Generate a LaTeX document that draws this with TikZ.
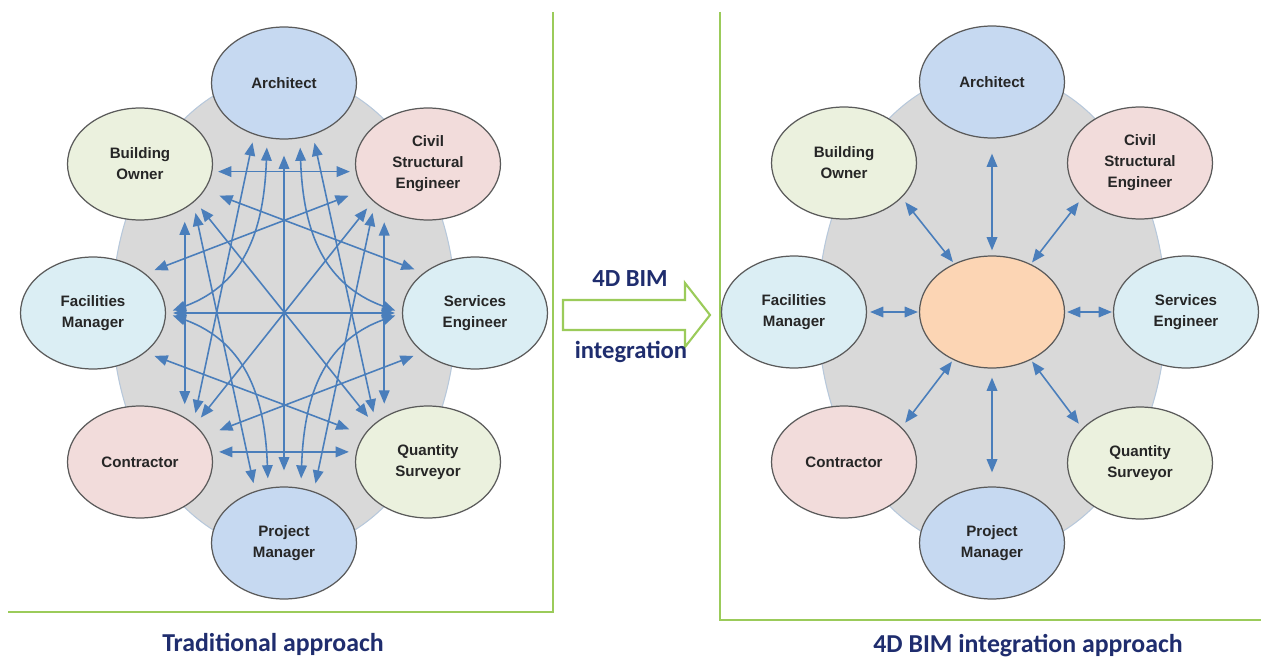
\documentclass[tikz,border=0pt]{standalone}
\usepackage{fontspec}
\setmainfont{Liberation Sans}
\newfontfamily\capfont{Carlito}
\usetikzlibrary{arrows.meta}
\usetikzlibrary{positioning}
\usetikzlibrary{shapes.geometric}

\definecolor{linkblue}{HTML}{4A7EBB}
\definecolor{rimgrey}{HTML}{5A5A5A}
\definecolor{poolgrey}{HTML}{D9D9D9}
\definecolor{poolrim}{HTML}{B7C8DB}
\definecolor{paleblue}{HTML}{C6D9F1}
\definecolor{palerose}{HTML}{F2DCDB}
\definecolor{palecyan}{HTML}{DBEEF4}
\definecolor{paleolive}{HTML}{EBF1DE}
\definecolor{hubpeach}{HTML}{FCD5B4}
\definecolor{framegreen}{HTML}{9BCB5A}
\definecolor{capnavy}{HTML}{1F2D6E}

\tikzset{
  party/.style={ellipse, draw=rimgrey, line width=0.7pt, minimum width=2.9cm,
    minimum height=2.24cm, inner sep=0pt, align=center,
    font=\fontsize{8.6}{12}\selectfont\bfseries, text=black!85},
  link/.style={draw=linkblue, line width=0.9pt,
    >={Triangle[length=7.5pt,width=6pt]}, <->},
  gaps/.style 2 args={shorten <=#1*0.02cm, shorten >=#2*0.02cm},
  pool/.style={draw=poolrim, line width=0.6pt, fill=poolgrey},
  frameline/.style={draw=framegreen, line width=1.1pt},
  caption/.style={font=\capfont\fontsize{14.7}{16}\selectfont\bfseries, text=capnavy},
  midtext/.style={font=\capfont\fontsize{14}{16}\selectfont\bfseries, text=capnavy},
}

\begin{document}
\begin{tikzpicture}[x=0.02cm, y=0.02cm]
    \useasboundingbox (0,0) rectangle (1261,657);
    % frames
    \path[frameline] (553,645) -- (553,45) -- (8,45);
    \path[frameline] (720,645) -- (720,37) -- (1261,37);

    % traditional approach
    \path[pool] (284,344) ellipse [x radius=172, y radius=238];
    \node[party, fill=paleblue] (arch) at (284,574) {Architect};
    \node[party, fill=palerose] (civil) at (428,493) {Civil\\Structural\\Engineer};
    \node[party, fill=palecyan] (serv) at (475,344) {Services\\Engineer};
    \node[party, fill=paleolive] (qs) at (428,195) {Quantity\\Surveyor};
    \node[party, fill=paleblue] (pm) at (284,114) {Project\\Manager};
    \node[party, fill=palerose] (contr) at (140,195) {Contractor};
    \node[party, fill=palecyan] (fac) at (93,344) {Facilities\\Manager};
    \node[party, fill=paleolive] (owner) at (140,493) {Building\\Owner};

    \path[link, gaps={5.7}{5.7}] (owner.-6.4) -- (civil.186.4);
    \path[link, gaps={7}{7}] (fac.0) -- (serv.180);
    \path[link, gaps={7.2}{7.2}] (contr.8) -- (qs.172);
    \path[link, gaps={16}{16}] (arch.270) -- (pm.90);
    \path[link, gaps={13}{13}] (owner.-45.2) -- (contr.45.2);
    \path[link, gaps={13}{13}] (civil.-134.8) -- (qs.134.8);
    \path[link, gaps={15.6}{9.7}] (owner.-22.7) -- (serv.142.1);
    \path[link, gaps={9.7}{15.6}] (fac.37.9) -- (civil.202.7);
    \path[link, gaps={9.7}{15.6}] (fac.-37.9) -- (qs.157.3);
    \path[link, gaps={15.6}{9.7}] (contr.22.7) -- (serv.217.9);
    \path[link, gaps={9.2}{9.2}] (owner.-34.2) -- (qs.145.8);
    \path[link, gaps={9.2}{9.2}] (civil.214.2) -- (contr.34.2);
    \path[link, gaps={10.4}{8}] (owner.-36.8) -- (pm.119.8);
    \path[link, gaps={10.4}{8}] (civil.216.8) -- (pm.60.2);
    \path[link, gaps={8}{10.4}] (arch.240.2) -- (contr.36.8);
    \path[link, gaps={8}{10.4}] (arch.299.8) -- (qs.143.2);
    \path[link, gaps={9.4}{7}] (arch.253.7) to[out=268, in=20, looseness=1.1] (fac.0);
    \path[link, gaps={9.4}{7}] (arch.286.3) to[out=272, in=160, looseness=1.1] (serv.180);
    \path[link, gaps={9.4}{7}] (pm.106.3) to[out=92, in=-20, looseness=1.1] (fac.0);
    \path[link, gaps={9.4}{7}] (pm.73.7) to[out=88, in=200, looseness=1.1] (serv.180);

    % the change
    \path[draw=framegreen, line width=1.2pt, fill=white] (563,357) -- (685,357)
        -- (685,374) -- (710,342) -- (685,310) -- (685,327) -- (563,327) -- cycle;
    \node[midtext] (bimtop) at (630,378) {4D BIM};
    \node[midtext] (bimbot) at (631,305) {integration};

    % 4D BIM integration approach
    \path[pool] (992,345) ellipse [x radius=174, y radius=240];
    \node[party, fill=hubpeach] (hub) at (992,345) {};
    \node[party, fill=paleblue] (archB) at (992,575) {Architect};
    \node[party, fill=palerose] (civilB) at (1140,494) {Civil\\Structural\\Engineer};
    \node[party, fill=palecyan] (servB) at (1186,345) {Services\\Engineer};
    \node[party, fill=paleolive] (qsB) at (1140,194) {Quantity\\Surveyor};
    \node[party, fill=paleblue] (pmB) at (992,114) {Project\\Manager};
    \node[party, fill=palerose] (contrB) at (844,195) {Contractor};
    \node[party, fill=palecyan] (facB) at (794,345) {Facilities\\Manager};
    \node[party, fill=paleolive] (ownerB) at (844,494) {Building\\Owner};

    \path[link, gaps={15}{5}] (archB.270) -- (hub.90);
    \path[link, gaps={5.7}{2}] (ownerB.-31) -- (hub.128.7);
    \path[link, gaps={5.7}{2}] (civilB.211) -- (hub.51.3);
    \path[link, gaps={3}{1}] (facB.0) -- (hub.180);
    \path[link, gaps={1}{2}] (servB.180) -- (hub.0);
    \path[link, gaps={5.7}{2}] (contrB.31) -- (hub.231.3);
    \path[link, gaps={5.7}{2}] (qsB.149) -- (hub.-51.3);
    \path[link, gaps={14}{9}] (pmB.90) -- (hub.270);

    \node[caption] (tradcap) at (273,13) {Traditional approach};
    \node[caption] (bimcap) at (1028,11) {4D BIM integration approach};
\end{tikzpicture}
\end{document}
